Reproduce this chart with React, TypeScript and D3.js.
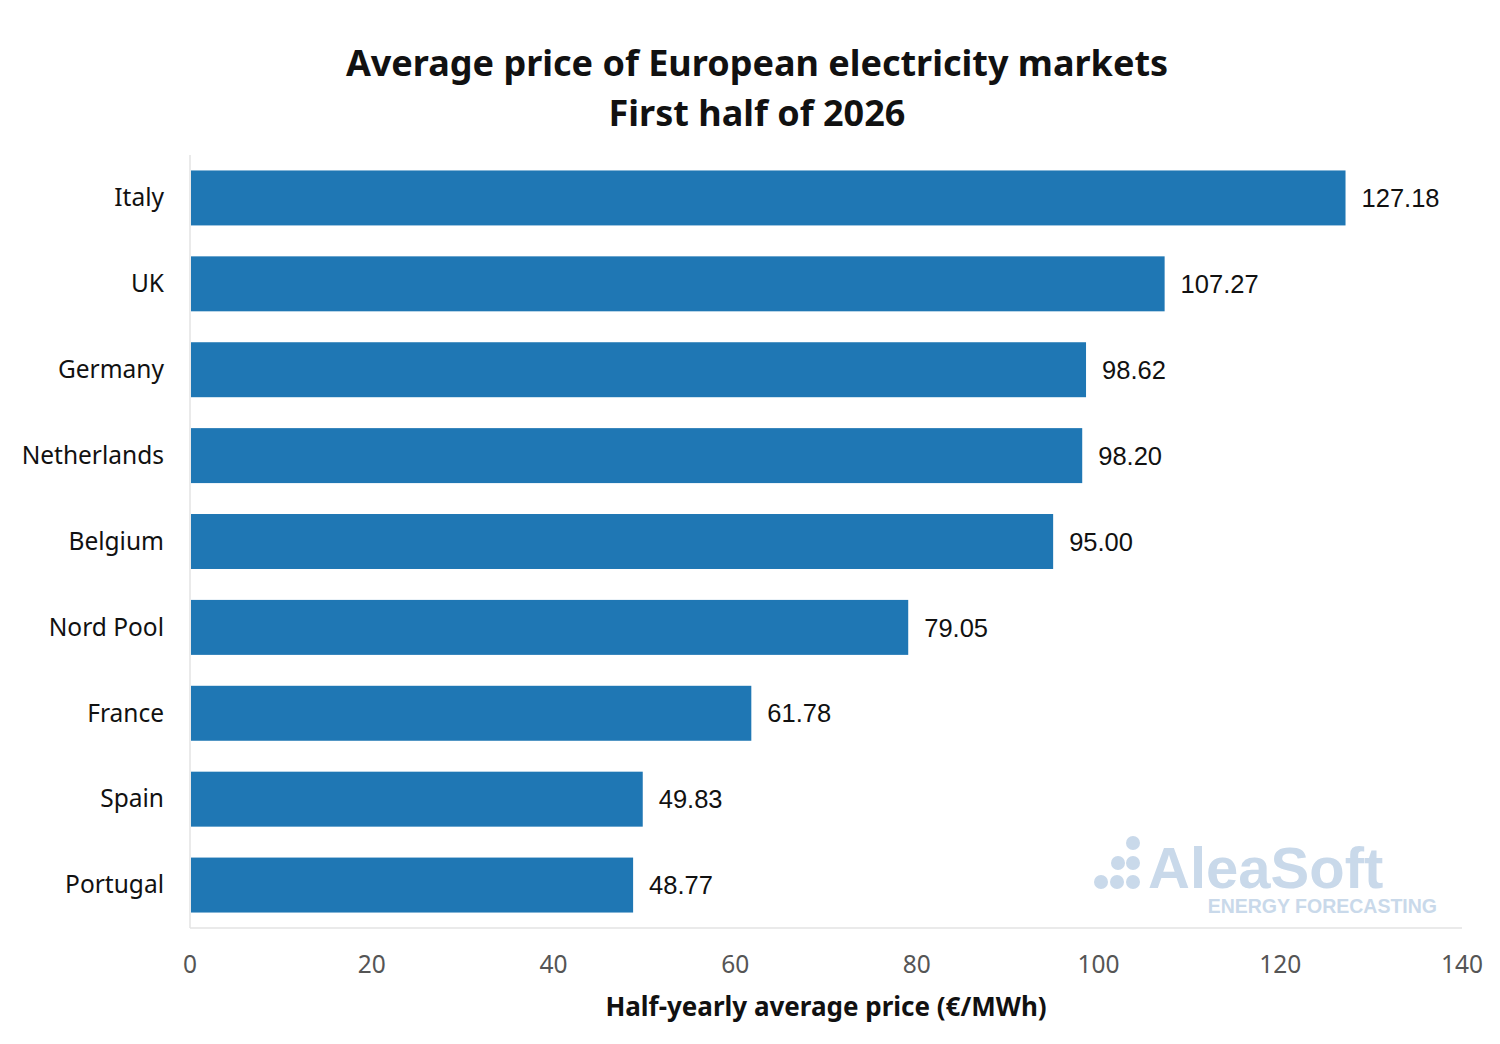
import { useEffect, useRef } from "react";
import * as d3 from "d3";

const countries = [
  "Italy",
  "UK",
  "Germany",
  "Netherlands",
  "Belgium",
  "Nord Pool",
  "France",
  "Spain",
  "Portugal",
];
const prices = [127.18, 107.27, 98.62, 98.2, 95.0, 79.05, 61.78, 49.83, 48.77];
const xTicks = [0, 20, 40, 60, 80, 100, 120, 140];

const titleLines = [
  "Average price of European electricity markets",
  "First half of 2026",
];
const xTitle = "Half-yearly average price (€/MWh)";

const W = 1500;
const H = 1044;

export default function App() {
  const svgRef = useRef<SVGSVGElement | null>(null);

  useEffect(() => {
    if (!svgRef.current) return;
    const svg = d3.select(svgRef.current);
    svg.selectAll("*").remove();

    const margin = { top: 155, right: 38, bottom: 116, left: 190 };
    const innerW = W - margin.left - margin.right;
    const innerH = H - margin.top - margin.bottom;

    svg.append("rect").attr("width", W).attr("height", H).attr("fill", "#fff");

    // title
    svg
      .append("text")
      .attr("x", 757)
      .attr("y", 76)
      .attr("text-anchor", "middle")
      .style("font-family", "'Noto Sans', sans-serif")
      .style("font-weight", 700)
      .style("font-size", "36px")
      .attr("fill", "#111")
      .selectAll("tspan")
      .data(titleLines)
      .join("tspan")
      .attr("x", 757)
      .attr("dy", (_d, i) => (i === 0 ? 0 : 50))
      .text((d) => d);

    // watermark
    const wm = svg.append("g").attr("fill", "#c9d9ea");
    const dots = [
      [1133, 843],
      [1118, 863],
      [1133, 863],
      [1101, 882],
      [1117, 882],
      [1133, 882],
    ];
    wm.selectAll("circle")
      .data(dots)
      .join("circle")
      .attr("cx", (d) => d[0])
      .attr("cy", (d) => d[1])
      .attr("r", 7);
    wm.append("text")
      .attr("x", 1148)
      .attr("y", 888)
      .style("font-family", "'Liberation Sans', Arial, sans-serif")
      .style("font-weight", 700)
      .style("font-size", "58px")
      .text("AleaSoft");
    wm.append("text")
      .attr("x", 1437)
      .attr("y", 913)
      .attr("text-anchor", "end")
      .style("font-family", "'Liberation Sans', Arial, sans-serif")
      .style("font-weight", 700)
      .style("font-size", "19.5px")
      .text("ENERGY FORECASTING");

    const g = svg
      .append("g")
      .attr("transform", `translate(${margin.left},${margin.top})`);

    const x = d3.scaleLinear().domain([0, 140]).range([0, innerW]);
    const y = d3
      .scaleBand<string>()
      .domain(countries)
      .range([0, innerH])
      .paddingInner(0.36)
      .paddingOuter(0.18);

    // axis lines
    g.append("line")
      .attr("x1", 0)
      .attr("x2", 0)
      .attr("y1", 0)
      .attr("y2", innerH)
      .attr("stroke", "#e3e3e3")
      .attr("stroke-width", 1.5);
    g.append("line")
      .attr("x1", 0)
      .attr("x2", innerW)
      .attr("y1", innerH)
      .attr("y2", innerH)
      .attr("stroke", "#e3e3e3")
      .attr("stroke-width", 1.5);

    // bars
    g.selectAll("rect.bar")
      .data(prices)
      .join("rect")
      .attr("class", "bar")
      .attr("x", x(0) + 1)
      .attr("y", (_d, i) => y(countries[i]) ?? 0)
      .attr("width", (d) => x(d) - x(0) - 1)
      .attr("height", y.bandwidth())
      .attr("fill", "#1f77b4");

    // value labels
    g.selectAll("text.val")
      .data(prices)
      .join("text")
      .attr("class", "val")
      .attr("x", (d) => x(d) + 16)
      .attr("y", (_d, i) => (y(countries[i]) ?? 0) + y.bandwidth() / 2)
      .attr("dy", "0.36em")
      .style("font-family", "'Liberation Sans', Arial, sans-serif")
      .style("font-size", "25.5px")
      .attr("fill", "#111")
      .text((d) => d.toFixed(2));

    // category labels
    g.selectAll("text.cat")
      .data(countries)
      .join("text")
      .attr("class", "cat")
      .attr("x", -26)
      .attr("y", (d) => (y(d) ?? 0) + y.bandwidth() / 2)
      .attr("dy", "0.34em")
      .attr("text-anchor", "end")
      .style("font-family", "'Noto Sans', sans-serif")
      .style("font-size", "24.5px")
      .attr("fill", "#111")
      .text((d) => d);

    // x ticks
    g.selectAll("text.tick")
      .data(xTicks)
      .join("text")
      .attr("class", "tick")
      .attr("x", (d) => x(d))
      .attr("y", innerH + 36)
      .attr("dy", "0.35em")
      .attr("text-anchor", "middle")
      .style("font-family", "'Noto Sans', sans-serif")
      .style("font-size", "24.5px")
      .attr("fill", "#555")
      .text((d) => String(d));

    // x title
    g.append("text")
      .attr("x", innerW / 2)
      .attr("y", innerH + 79)
      .attr("dy", "0.35em")
      .attr("text-anchor", "middle")
      .style("font-family", "'Noto Sans', sans-serif")
      .style("font-weight", 700)
      .style("font-size", "26px")
      .attr("fill", "#111")
      .text(xTitle);
  }, []);

  return (
    <div style={{ position: "absolute", left: 0, top: 0 }}>
      <svg ref={svgRef} width={W} height={H} style={{ display: "block" }} />
    </div>
  );
}
